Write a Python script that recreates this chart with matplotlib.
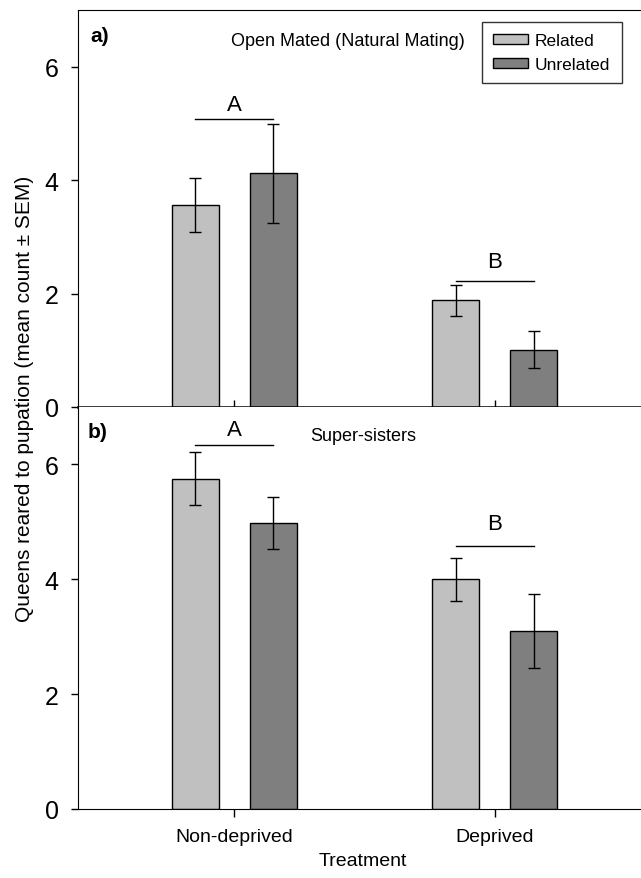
import matplotlib
matplotlib.use("Agg")
import matplotlib.pyplot as plt
import numpy as np

plt.rcParams['font.family'] = ['Liberation Sans', 'DejaVu Sans']

# data
treatments = ['Non-deprived', 'Deprived']
groups = ['Related', 'Unrelated']

open_related = [3.56, 1.88]
open_related_sem = [0.48, 0.27]
open_unrelated = [4.12, 1.01]
open_unrelated_sem = [0.87, 0.33]

super_related = [5.75, 4.00]
super_related_sem = [0.46, 0.37]
super_unrelated = [4.98, 3.10]
super_unrelated_sem = [0.46, 0.64]

sig_letters = ['A', 'B']
open_sig_line = [5.08, 2.23]
open_sig_text = [5.33, 2.56]
super_sig_line = [6.33, 4.58]
super_sig_text = [6.61, 4.98]

c_rel = '#c0c0c0'
c_unrel = '#7f7f7f'

x = np.arange(1, len(treatments) + 1)
off = 0.15
width = 0.179

W, H = 641, 879
fig = plt.figure(figsize=(W / 100, H / 100), dpi=100)
ax1 = fig.add_axes([78 / W, (H - 408) / H, 573 / W, 397 / H])
ax2 = fig.add_axes([78 / W, (H - 810) / H, 573 / W, 402 / H])


def draw_panel(ax, rel, rel_sem, unrel, unrel_sem, line_y, text_y):
    ekw = dict(ecolor='black', elinewidth=1.0, capsize=4.5, capthick=1.0)
    ax.bar(x - off, rel, width, yerr=rel_sem, color=c_rel, edgecolor='black',
           linewidth=1.0, error_kw=ekw, label=groups[0], zorder=2)
    ax.bar(x + off, unrel, width, yerr=unrel_sem, color=c_unrel, edgecolor='black',
           linewidth=1.0, error_kw=ekw, label=groups[1], zorder=2)
    for xi, ly, ty, lt in zip(x, line_y, text_y, sig_letters):
        ax.plot([xi - off, xi + off], [ly, ly], color='black', lw=1.0)
        ax.text(xi, ty, lt, ha='center', va='center', fontsize=16)
    ax.set_xlim(0.4, 2.6)
    ax.set_ylim(0, 7)
    ax.set_yticks([0, 2, 4, 6])
    ax.set_xticks(x)
    ax.spines['right'].set_visible(False)
    ax.tick_params(axis='y', direction='out', length=5, width=1, labelsize=18, pad=9)


draw_panel(ax1, open_related, open_related_sem, open_unrelated, open_unrelated_sem,
           open_sig_line, open_sig_text)
draw_panel(ax2, super_related, super_related_sem, super_unrelated, super_unrelated_sem,
           super_sig_line, super_sig_text)

ax1.set_xticklabels([])
ax1.tick_params(axis='x', direction='in', length=5, width=1)
ax1.spines['bottom'].set_linewidth(1.8)
ax2.spines['top'].set_visible(False)
ax2.set_xticklabels(treatments, fontsize=14)
ax2.tick_params(axis='x', direction='out', length=6, width=1, pad=8)

ax1.text(0.021, 0.937, 'a)', transform=ax1.transAxes, fontsize=15,
         fontweight='bold', va='center', ha='left')
ax2.text(0.017, 0.938, 'b)', transform=ax2.transAxes, fontsize=15,
         fontweight='bold', va='center', ha='left')
ax1.text(0.471, 0.924, 'Open Mated (Natural Mating)', transform=ax1.transAxes,
         fontsize=13, ha='center', va='center')
ax2.text(0.497, 0.930, 'Super-sisters', transform=ax2.transAxes,
         fontsize=13, ha='center', va='center')

leg = ax1.legend(loc='upper right', bbox_to_anchor=(0.949, 0.970), fontsize=12.5,
                 frameon=True, fancybox=False, handlelength=2.0, handleheight=0.5,
                 handletextpad=0.4, labelspacing=0.5, borderpad=0.65,
                 borderaxespad=0)
leg.get_frame().set_edgecolor('black')
leg.get_frame().set_linewidth(1.0)

fig.text(363 / W, 1 - 862 / H, 'Treatment', fontsize=14, ha='center', va='center')
fig.text(25 / W, 1 - 399 / H, 'Queens reared to pupation (mean count \u00b1 SEM)',
         fontsize=15, rotation=90, ha='center', va='center')

fig.savefig('out.png', dpi=100)
